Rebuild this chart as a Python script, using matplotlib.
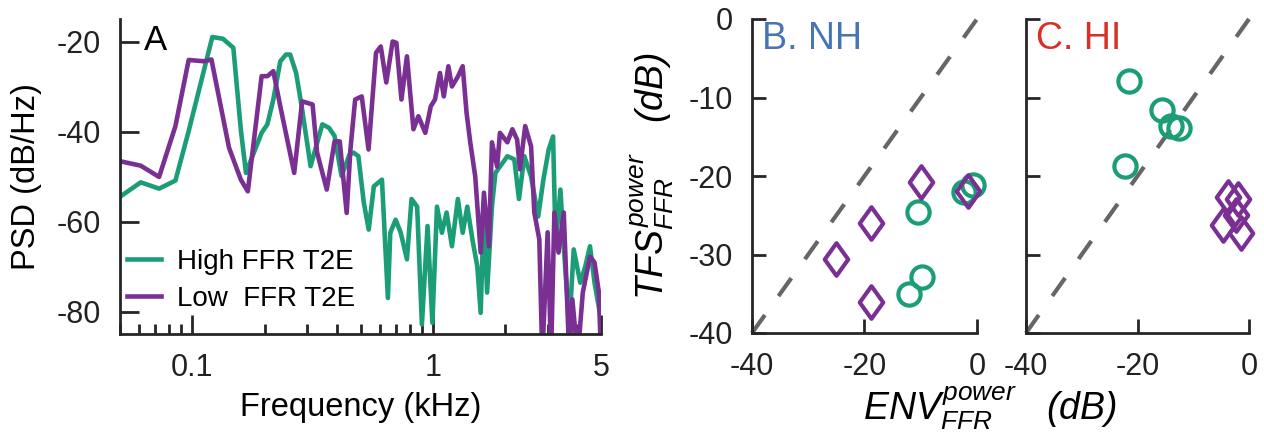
import numpy as np
import matplotlib
matplotlib.use("Agg")
import matplotlib.pyplot as plt
from matplotlib.path import Path
from matplotlib.markers import MarkerStyle

plt.rcParams['font.family'] = ['Liberation Sans', 'DejaVu Sans']
plt.rcParams['mathtext.fontset'] = 'custom'
plt.rcParams['mathtext.rm'] = 'Liberation Sans'
plt.rcParams['mathtext.it'] = 'Liberation Sans:italic'
plt.rcParams['mathtext.bf'] = 'Liberation Sans:bold'
plt.rcParams['axes.unicode_minus'] = False

# ---- Panel A: PSD of the two FFR groups ----
freq_high = [0.05, 0.061, 0.0727, 0.085, 0.0965, 0.121, 0.134, 0.148, 0.159, 0.167,
             0.194, 0.205, 0.217, 0.232, 0.245, 0.255, 0.27, 0.286, 0.31, 0.347,
             0.37, 0.39, 0.417, 0.45, 0.468, 0.49, 0.516, 0.541, 0.568, 0.614,
             0.65, 0.665, 0.70, 0.735, 0.78, 0.815, 0.86, 0.90, 0.95, 0.995,
             1.04, 1.09, 1.14, 1.20, 1.27, 1.33, 1.39, 1.46, 1.53, 1.58,
             1.63, 1.68, 1.76, 1.82, 1.90, 2.04, 2.18, 2.28, 2.40, 2.56,
             2.74, 2.88, 3.03, 3.16, 3.24, 3.39, 3.50, 3.69, 3.85, 4.10,
             4.30, 4.50, 4.70, 5.00]
psd_high = [-54.5, -51.3, -52.7, -50.9, -39.9, -19.0, -19.4, -21.4, -39.6, -49.2,
            -40.3, -38.4, -32.9, -24.4, -22.9, -22.9, -27.0, -35.1, -47.7, -38.4,
            -39.2, -41.0, -49.9, -45.1, -44.7, -45.5, -55.8, -61.8, -52.2, -50.7,
            -77.0, -62.5, -59.6, -62.5, -68.4, -55.0, -56.7, -82.9, -61.0, -82.5,
            -56.7, -62.5, -58.0, -65.5, -55.0, -62.5, -56.7, -64.0, -70.0, -80.3,
            -56.7, -75.8, -56.7, -49.2, -47.8, -45.5, -46.2, -55.0, -45.5, -50.0,
            -58.9, -50.7, -44.0, -41.1, -65.5, -52.9, -65.5, -83.3, -66.2, -73.6,
            -70.0, -65.5, -73.6, -81.8]

freq_low = [0.05, 0.061, 0.0727, 0.085, 0.0965, 0.112, 0.12, 0.142, 0.159, 0.17,
            0.194, 0.205, 0.217, 0.232, 0.265, 0.286, 0.316, 0.33, 0.362, 0.39,
            0.41, 0.438, 0.454, 0.475, 0.506, 0.54, 0.58, 0.607, 0.64, 0.68,
            0.705, 0.74, 0.78, 0.83, 0.87, 0.93, 0.98, 1.02, 1.07, 1.11,
            1.16, 1.20, 1.27, 1.33, 1.38, 1.43, 1.50, 1.58, 1.63, 1.71,
            1.76, 1.85, 1.90, 2.04, 2.14, 2.24, 2.30, 2.42, 2.56, 2.64,
            2.77, 2.85, 3.00, 3.10, 3.20, 3.33, 3.50, 3.69, 3.80, 4.00,
            4.20, 4.50, 4.70, 4.90, 5.00]
psd_low = [-46.6, -47.6, -50.1, -38.8, -24.1, -24.4, -24.0, -43.6, -50.7, -53.3,
           -27.7, -27.7, -26.6, -34.4, -49.2, -33.3, -34.0, -44.7, -52.9, -42.2,
           -42.2, -58.1, -44.0, -32.9, -32.2, -44.0, -22.5, -21.1, -29.1, -20.0,
           -20.3, -32.9, -23.3, -39.5, -36.6, -40.3, -34.4, -32.9, -27.0, -32.2,
           -25.5, -30.0, -27.8, -25.5, -35.8, -42.4, -50.0, -66.9, -53.6, -65.5,
           -42.4, -47.8, -40.3, -42.4, -39.5, -41.8, -48.4, -38.8, -43.3, -58.0,
           -64.0, -90.0, -62.4, -90.0, -58.0, -66.9, -58.0, -90.0, -77.3, -90.0,
           -75.8, -67.8, -69.1, -75.8, -90.0]

# ---- Panels B/C: TFS vs ENV power ----
nh_high_env = [-10.5, -9.8, -12.1, -2.3, -0.7]
nh_high_tfs = [-24.6, -32.9, -35.0, -22.0, -21.1]
nh_low_env = [-10.0, -18.8, -25.1, -18.8, -1.6]
nh_low_tfs = [-20.8, -26.0, -30.6, -36.1, -21.9]

hi_high_env = [-21.5, -15.6, -14.0, -12.6, -22.2]
hi_high_tfs = [-7.9, -11.6, -13.6, -13.9, -18.7]
hi_low_env = [-3.8, -2.0, -2.3, -4.7, -1.4]
hi_low_tfs = [-22.7, -22.9, -25.0, -26.2, -27.3]

GREEN = '#1b9e77'
PURPLE = '#7a3093'
AXC = '#262626'
W, H = 1264, 438

fig = plt.figure(figsize=(W / 100, H / 100), dpi=100)


def px_axes(left, top, right, bottom):
    return fig.add_axes([left / W, 1 - bottom / H, (right - left) / W, (bottom - top) / H])


def style(ax):
    for s in ('top', 'right'):
        ax.spines[s].set_visible(False)
    for s in ('left', 'bottom'):
        ax.spines[s].set_linewidth(2.0)
        ax.spines[s].set_color(AXC)
    ax.tick_params(which='major', direction='in', length=10, width=2.0, color=AXC,
                   labelsize=22, pad=14, labelcolor='#222222')
    ax.tick_params(which='minor', direction='in', length=5, width=2.0, color=AXC)
    ax.patch.set_alpha(0)


# Panel A
axA = px_axes(120, 19, 601, 334)
axA.plot(freq_high, psd_high, color=GREEN, lw=3.3, label='High FFR T2E')
axA.plot(freq_low, psd_low, color=PURPLE, lw=3.3, label='Low  FFR T2E')
axA.set_xscale('log')
axA.set_xlim(0.05, 5)
axA.set_ylim(-85, -15)
axA.set_xticks([0.1, 1, 5])
axA.set_xticklabels(['0.1', '1', '5'])
axA.set_yticks([-80, -60, -40, -20])
style(axA)
axA.tick_params(which='major', length=14)
axA.tick_params(which='minor', length=7)
axA.set_xlabel('Frequency (kHz)', fontsize=23.5, labelpad=6)
axA.set_ylabel('PSD (dB/Hz)', fontsize=23.5, labelpad=10)
axA.text(0.05, 0.985, 'A', transform=axA.transAxes, fontsize=25, va='top', ha='left')
axA.legend(loc='upper left', bbox_to_anchor=(0.015, 0.27), frameon=False, fontsize=20,
           handlelength=1.2, handletextpad=0.6, labelspacing=0.4, borderpad=0,
           borderaxespad=0)

# Panels B and C
diamond = MarkerStyle(Path([(0, 1), (0.72, 0), (0, -1), (-0.72, 0), (0, 1)],
                           [Path.MOVETO, Path.LINETO, Path.LINETO, Path.LINETO, Path.CLOSEPOLY]),
                      joinstyle='miter')

panels = [
    (752, 977, 'B. NH', '#4575b4', nh_high_env, nh_high_tfs, nh_low_env, nh_low_tfs, True),
    (1026, 1249, 'C. HI', '#d73027', hi_high_env, hi_high_tfs, hi_low_env, hi_low_tfs, False),
]
axes_sc = []
for left, right, title, tcol, he, ht, le, lt, show_y in panels:
    ax = px_axes(left, 19, right, 333)
    ax.plot([-40, 0], [-40, 0], color='#666666', lw=3.0, dashes=(5.3, 5.6),
            dash_capstyle='butt', zorder=1)
    ax.plot(he, ht, ls='none', marker='o', ms=16, mfc='none', mec=GREEN, mew=3.0, zorder=3)
    ax.plot(le, lt, ls='none', marker=diamond, ms=23.5, mfc='none', mec=PURPLE, mew=3.0, zorder=3)
    ax.set_xlim(-40, 0)
    ax.set_ylim(-40, 0)
    ax.set_xticks([-40, -20, 0])
    ax.set_yticks([-40, -30, -20, -10, 0])
    style(ax)
    if not show_y:
        ax.set_yticklabels([])
    ax.text(0.045, 0.995, title, transform=ax.transAxes, color=tcol, fontsize=27,
            va='top', ha='left')
    for c in ax.collections + ax.lines:
        c.set_clip_on(False)
    axes_sc.append(ax)

axes_sc[0].set_ylabel(r'$TFS^{power}_{FFR}$   (dB)', fontsize=27, style='italic', labelpad=9)
fig.text(990 / W, 1 - 408 / H, r'$ENV^{power}_{FFR}$   (dB)', fontsize=27, style='italic',
         ha='center', va='center')

fig.savefig('out.png', dpi=100)
